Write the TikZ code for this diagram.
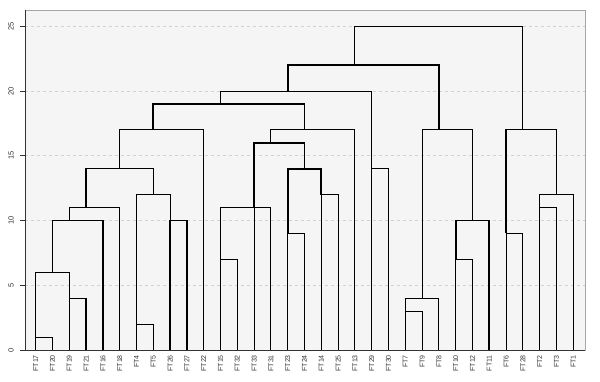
\documentclass[tikz,border=0pt]{standalone}
\usepackage{fontspec}
\setmainfont{Liberation Sans}
\newcommand{\mrg}[6]{\draw[tree,#6] (#1,#2) -- (#1,#5) -- (#3,#5) -- (#3,#4);}
\begin{document}
\begin{tikzpicture}[x=1pt,y=1pt,
  tree/.style={line width=0.9pt, black},
  bold/.style={line width=1.7pt},
  mid/.style={line width=1.3pt},
  thin/.style={},
  gridline/.style={gray!35, line width=0.6pt, dash pattern=on 3pt off 3pt},
  leaf/.style={font=\fontsize{7}{8}\selectfont, text=black!80, rotate=90, anchor=east, inner sep=0pt},
  ylab/.style={font=\fontsize{7.5}{8}\selectfont, text=black!80, rotate=90, inner sep=0pt}]
\useasboundingbox (0,0) rectangle (600,381);
\fill[white] (0,0) rectangle (600,381);
\fill[gray!8] (25,31) rectangle (585,371);
% grid lines, ticks and y labels
\foreach \v in {0,5,10,15,20,25}{
  \pgfmathsetmacro{\yy}{31+12.95*\v}
  \ifnum\v>0 \draw[gridline] (25,\yy) -- (585,\yy); \fi
  \draw[black!80, line width=0.6pt] (20,\yy) -- (25,\yy);
  \node[ylab] at (11,\yy) {\v};
}
% frame
\draw[gray!70, line width=0.8pt] (25,31) rectangle (585,371);
\draw[black!80, line width=0.8pt] (25,371) -- (25,31) -- (585,31);
\begin{scope}[x=16.8pt, y=12.95pt, shift={(18.9pt,31pt)}]
% leaf labels
\foreach \lab [count=\i] in {FT17,FT20,FT19,FT21,FT16,FT18,FT4,FT5,FT26,FT27,FT22,FT15,FT32,FT33,FT31,FT23,FT24,FT14,FT25,FT13,FT29,FT30,FT7,FT9,FT8,FT10,FT12,FT11,FT6,FT28,FT2,FT3,FT1}{
  \path (\i,0) ++(0,-5pt) node[leaf] {\lab};
}
% left cluster
\mrg{1}{0}{2}{0}{1}{thin}
\mrg{3}{0}{4}{0}{4}{mid}
\mrg{1}{1}{3}{4}{6}{mid}
\mrg{2}{6}{5}{0}{10}{bold}
\mrg{3}{10}{6}{0}{11}{thin}
\mrg{7}{0}{8}{0}{2}{thin}
\mrg{9}{0}{10}{0}{10}{bold}
\mrg{7}{2}{9}{10}{12}{thin}
\mrg{4}{11}{8}{12}{14}{mid}
\mrg{6}{14}{11}{0}{17}{mid}
% middle cluster
\mrg{12}{0}{13}{0}{7}{thin}
\mrg{12}{7}{14}{0}{11}{thin}
\mrg{13}{11}{15}{0}{11}{thin}
\mrg{16}{0}{17}{0}{9}{thin}
\mrg{18}{0}{19}{0}{12}{thin}
\mrg{16}{9}{18}{12}{14}{bold}
\mrg{14}{11}{17}{14}{16}{bold}
\mrg{15}{16}{20}{0}{17}{thin}
\mrg{8}{17}{17}{17}{19}{bold}
\mrg{21}{0}{22}{0}{14}{thin}
\mrg{12}{19}{21}{14}{20}{thin}
% right cluster
\mrg{23}{0}{24}{0}{3}{thin}
\mrg{23}{3}{25}{0}{4}{thin}
\mrg{26}{0}{27}{0}{7}{thin}
\mrg{26}{7}{28}{0}{10}{bold}
\mrg{24}{4}{27}{10}{17}{thin}
\mrg{29}{0}{30}{0}{9}{thin}
\mrg{31}{0}{32}{0}{11}{thin}
\mrg{31}{11}{33}{0}{12}{thin}
\mrg{29}{9}{32}{12}{17}{mid}
% top
\mrg{16}{20}{25}{17}{22}{bold}
\mrg{20}{22}{30}{17}{25}{thin}
\end{scope}
\end{tikzpicture}
\end{document}
